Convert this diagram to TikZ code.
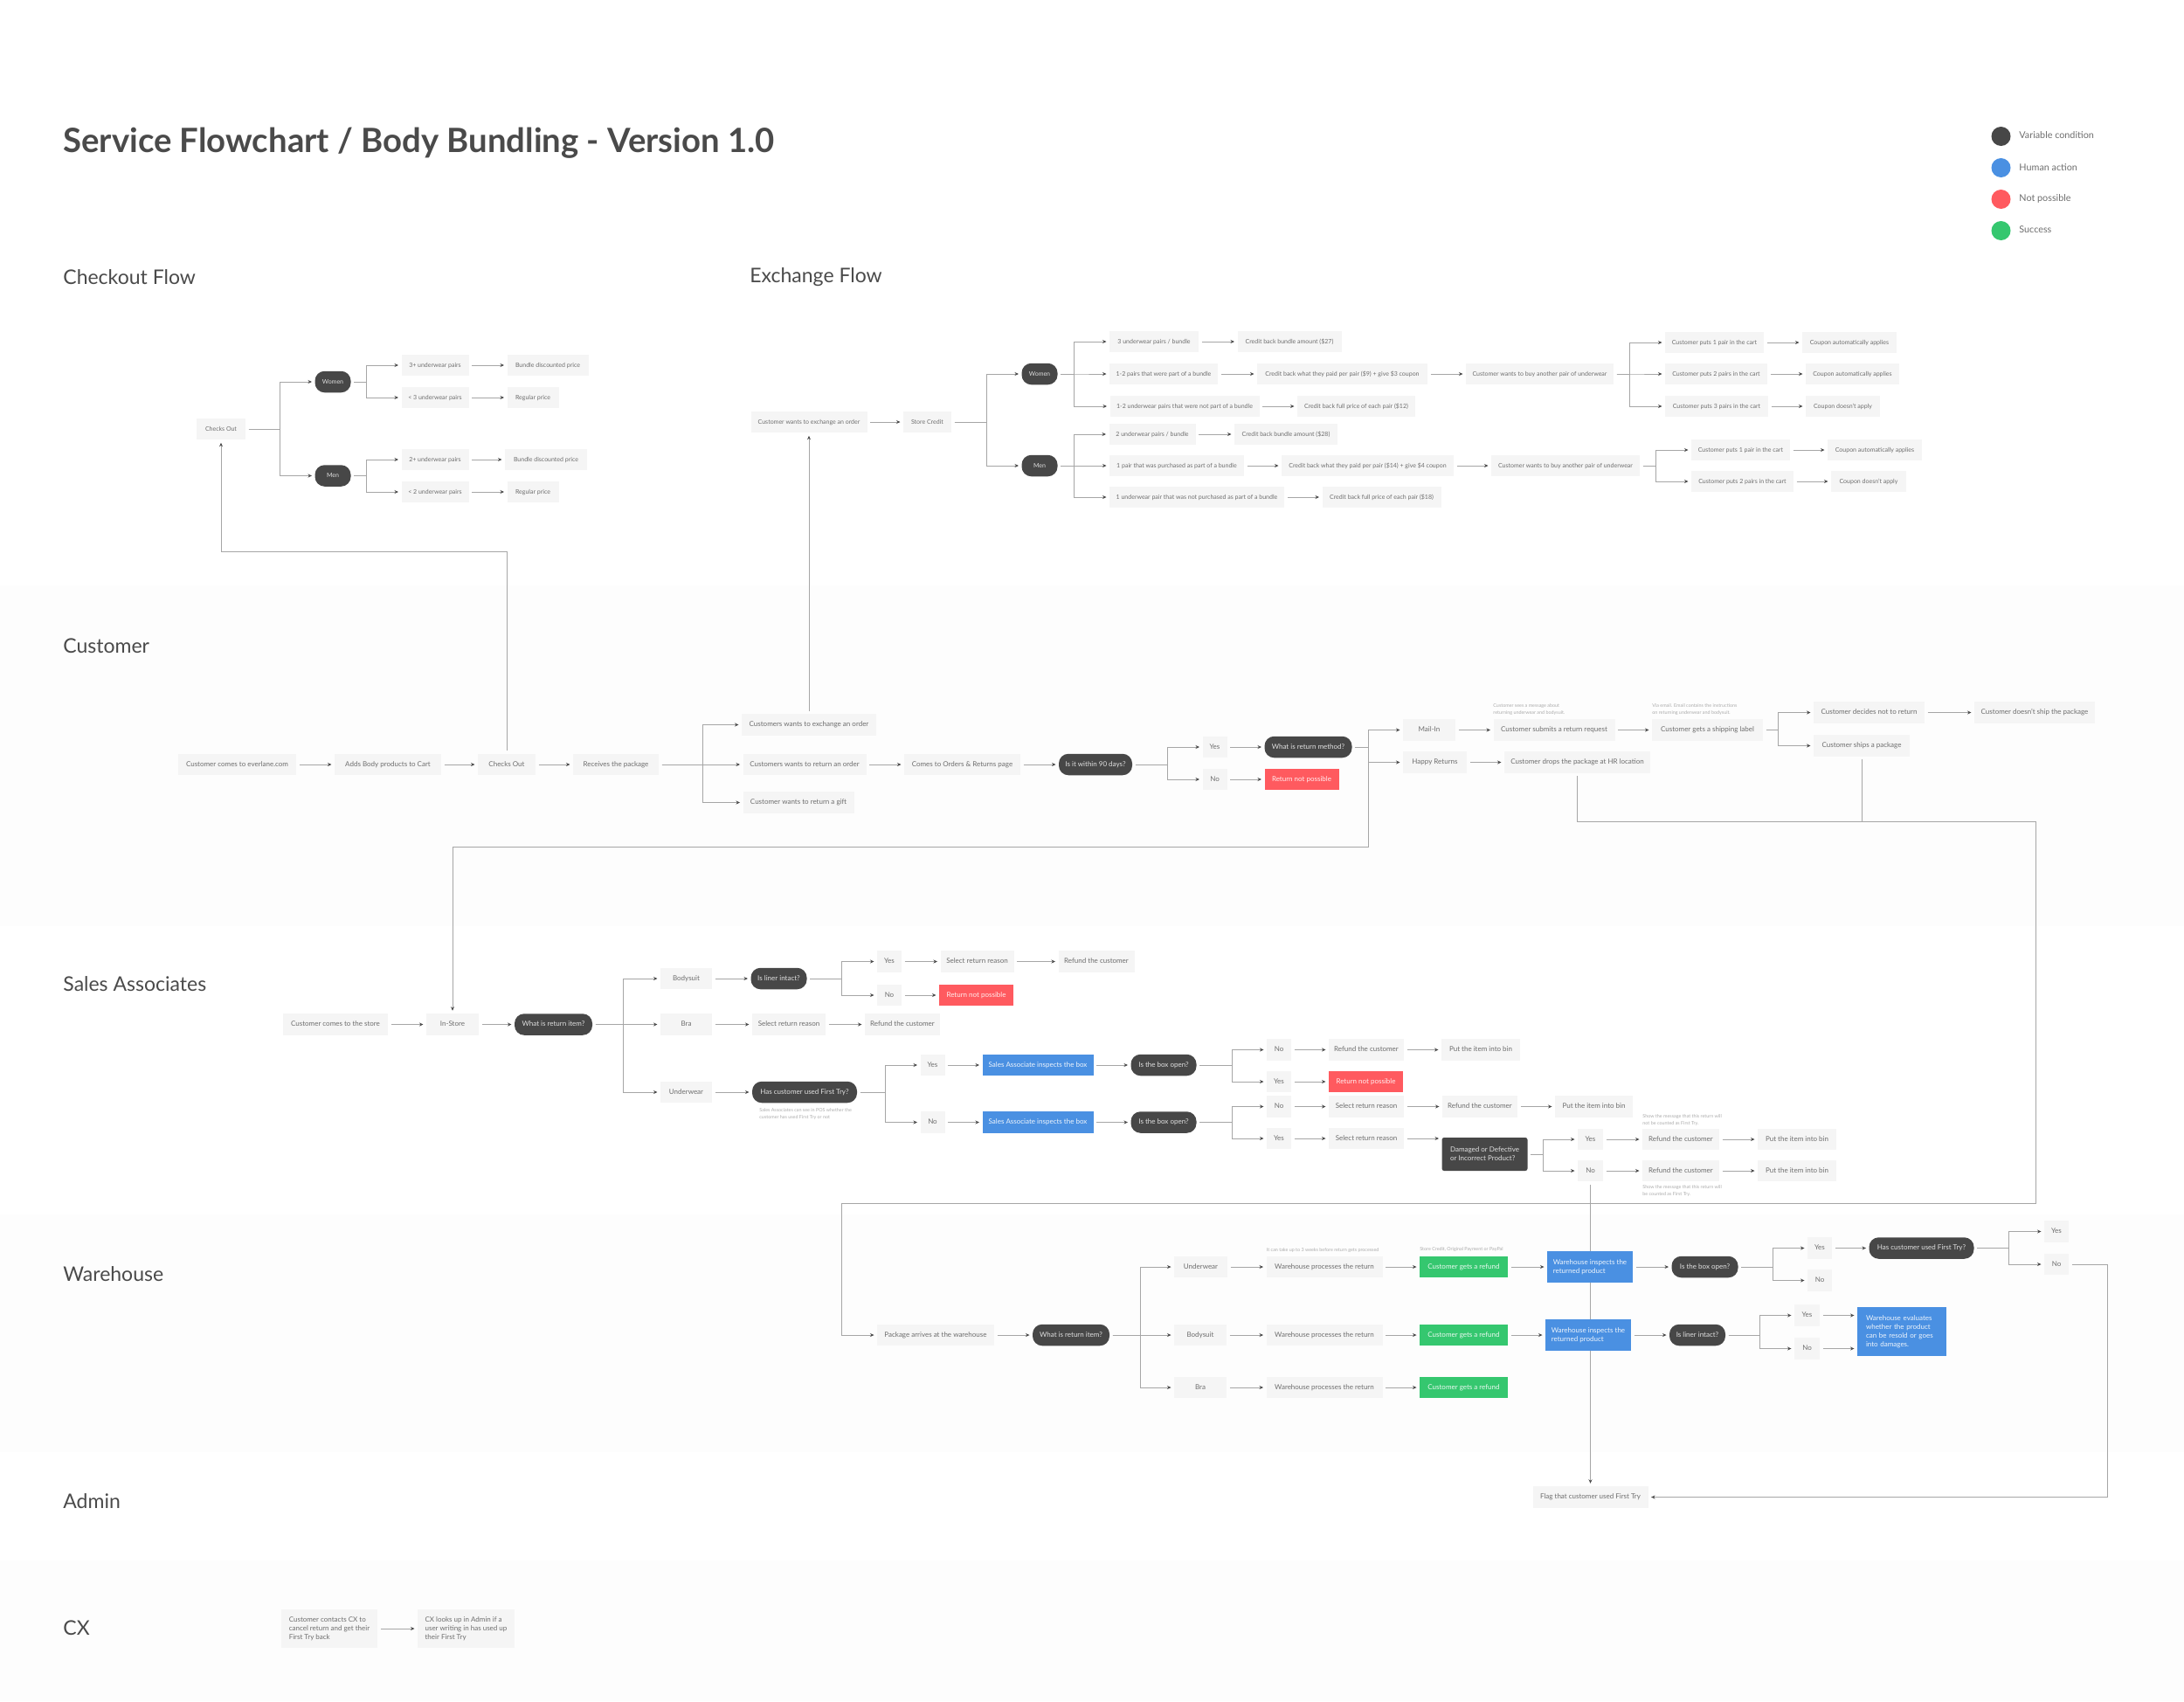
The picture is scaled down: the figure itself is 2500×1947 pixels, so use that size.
\documentclass[tikz,border=0pt]{standalone}
\usepackage{fontspec}
\setmainfont{Lato}
\usetikzlibrary{arrows.meta,backgrounds}
\definecolor{linegray}{HTML}{A6A6A6}
\definecolor{tipgray}{HTML}{4A4A4A}
\definecolor{boxgray}{HTML}{F5F5F5}
\definecolor{lanegray}{HTML}{FDFDFD}
\definecolor{txtgray}{HTML}{6E6E6E}
\definecolor{headgray}{HTML}{4A4A4A}
\definecolor{notegray}{HTML}{ABABAB}
\definecolor{conddark}{HTML}{474747}
\definecolor{humanblue}{HTML}{4A90E2}
\definecolor{nopered}{HTML}{FF5A5F}
\definecolor{okgreen}{HTML}{35C76F}
\tikzset{
  >={Stealth[length=4.5pt,width=4pt,color=tipgray]},
  w/.style={minimum width=#1},
  base/.style={rectangle, inner sep=0pt, outer sep=3.5pt, minimum height=24.5, font=\fontsize{8}{10}\selectfont},
  txt/.style={base, text height=6pt, text depth=1.8pt},
  small/.style={font=\fontsize{7}{9}\selectfont},
  box/.style={txt, fill=boxgray, text=txtgray},
  cond/.style={txt, fill=conddark, text=white!88!black, rounded corners=11},
  human/.style={txt, fill=humanblue, text=white!90!humanblue},
  nope/.style={txt, fill=nopered, text=white!90!nopered},
  okay/.style={txt, fill=okgreen, text=white!90!okgreen},
  note/.style={anchor=west, align=left, inner sep=0pt, text=notegray, font=\fontsize{5.4}{8}\selectfont},
  lane/.style={anchor=west, inner sep=0pt, text=headgray, font=\fontsize{23}{26}\selectfont},
  dot/.style={circle, inner sep=0pt, minimum size=22},
  key/.style={anchor=west, inner sep=0pt, text=txtgray, font=\fontsize{10.8}{13}\selectfont},
  brn/.style={to path={-- ++(#1,0) |- (\tikztotarget)}}
}
\begin{document}
\begin{tikzpicture}[->, x=1pt, y=-1pt, line width=.8pt, color=linegray]
\useasboundingbox (0,0) rectangle (2500,1947);
\node (title)[anchor=west, inner sep=0pt, text=headgray, font=\fontsize{38.3}{42}\selectfont\bfseries] at (72,164) {Service Flowchart / Body Bundling - Version 1.0};
\node (lane1)[lane] at (72,317) {Checkout Flow};
\node (lane2)[lane] at (858,317.5) {Exchange Flow};
\node (lane3)[lane] at (72,739) {Customer};
\node (lane4)[lane] at (72,1126) {Sales Associates};
\node (lane5)[lane] at (72,1458) {Warehouse};
\node (lane6)[lane] at (72,1718) {Admin};
\node (lane7)[lane] at (72,1863) {CX};

\node (dot1)[dot, fill=conddark] at (2290.5,156) {};
\node (dot2)[dot, fill=humanblue] at (2290.5,192) {};
\node (dot3)[dot, fill=nopered] at (2290.5,228) {};
\node (dot4)[dot, fill=okgreen] at (2290.5,264) {};
\node (key1)[key] at (2311,155) {Variable condition};
\node (key2)[key] at (2311,192) {Human action};
\node (key3)[key] at (2311,227) {Not possible};
\node (key4)[key] at (2311,263) {Success};

\node (ck1)[box, small, w=56] at (253,491) {Checks Out};
\node (ck2)[cond, small, w=41] at (381,437) {Women};
\node (ck3)[cond, small, w=41] at (381,544.5) {Men};
\node (ck4)[box, small, w=77] at (498,418) {3+ underwear pairs};
\node (ck5)[box, small, w=93] at (627,418) {Bundle discounted price};
\node (ck6)[box, small, w=77] at (498,455) {< 3 underwear pairs};
\node (ck7)[box, small, w=59] at (610,455) {Regular price};
\node (ck8)[box, small, w=77] at (498,526) {2+ underwear pairs};
\node (ck9)[box, small, w=94] at (625,526) {Bundle discounted price};
\node (ck10)[box, small, w=77] at (498,563) {< 2 underwear pairs};
\node (ck11)[box, small, w=59] at (610,563) {Regular price};

\node (ex1)[box, small, w=133] at (926,483) {Customer wants to exchange an order};
\node (ex2)[box, small, w=55] at (1061.5,483) {Store Credit};
\node (ex3)[cond, small, w=41] at (1190,428) {Women};
\node (ex4)[cond, small, w=41] at (1190,533) {Men};
\node (ew1)[box, small, w=102] at (1321,391) {3 underwear pairs / bundle};
\node (ew2)[box, small, w=119] at (1476,391) {Credit back bundle amount (\$27)};
\node (ew3)[box, small, w=124] at (1332,428) {1-2 pairs that were part of a bundle};
\node (ew4)[box, small, w=195] at (1536.5,428) {Credit back what they paid per pair (\$9) + give \$3 coupon};
\node (ew5)[box, small, w=171] at (1356,465) {1-2 underwear pairs that were not part of a bundle};
\node (ew6)[box, small, w=135] at (1552.5,465) {Credit back full price of each pair (\$12)};
\node (ew7)[box, small, w=169] at (1762.5,428) {Customer wants to buy another pair of underwear};
\node (ew8)[box, small, w=113] at (1962.5,392) {Customer puts 1 pair in the cart};
\node (ew9)[box, small, w=108] at (2117,392) {Coupon automatically applies};
\node (ew10)[box, small, w=117] at (1964.5,428) {Customer puts 2 pairs in the cart};
\node (ew11)[box, small, w=107] at (2120.5,428) {Coupon automatically applies};
\node (ew12)[box, small, w=118] at (1965,465) {Customer puts 3 pairs in the cart};
\node (ew13)[box, small, w=85] at (2109.5,465) {Coupon doesn't apply};
\node (em1)[box, small, w=99] at (1319,497) {2 underwear pairs / bundle};
\node (em2)[box, small, w=118] at (1472,497) {Credit back bundle amount (\$28)};
\node (em3)[box, small, w=154] at (1347,533) {1 pair that was purchased as part of a bundle};
\node (em4)[box, small, w=197] at (1565.5,533) {Credit back what they paid per pair (\$14) + give \$4 coupon};
\node (em5)[box, small, w=200] at (1370,569) {1 underwear pair that was not purchased as part of a bundle};
\node (em6)[box, small, w=136] at (1581.5,569) {Credit back full price of each pair (\$18)};
\node (em7)[box, small, w=170] at (1792,533) {Customer wants to buy another pair of underwear};
\node (em8)[box, small, w=113] at (1992.5,515) {Customer puts 1 pair in the cart};
\node (em9)[box, small, w=108] at (2146,515) {Coupon automatically applies};
\node (em10)[box, small, w=117] at (1994.5,551) {Customer puts 2 pairs in the cart};
\node (em11)[box, small, w=86] at (2139,551) {Coupon doesn't apply};

\node (cu1)[box, w=135] at (271.5,875) {Customer comes to everlane.com};
\node (cu2)[box, w=122] at (444,875) {Adds Body products to Cart};
\node (cu3)[box, w=66] at (580,875) {Checks Out};
\node (cu4)[box, w=98] at (705,875) {Receives the package};
\node (cu5)[box, w=154] at (926,829.5) {Customers wants to exchange an order};
\node (cu6)[box, w=141] at (921,875) {Customers wants to return an order};
\node (cu7)[box, w=127] at (914,918.5) {Customer wants to return a gift};
\node (cu8)[box, w=133] at (1101.5,875) {Comes to Orders \& Returns page};
\node (cu9)[cond, w=84] at (1254,875) {Is it within 90 days?};
\node (cu10)[box, w=28] at (1390.5,855) {Yes};
\node (cu11)[box, w=28] at (1390.5,892) {No};
\node (cu12)[cond, w=100] at (1497.5,855) {What is return method?};
\node (cu13)[nope, w=85] at (1490,892) {Return not possible};
\node (cu14)[box, w=60] at (1636,835.5) {Mail-In};
\node (cu15)[box, w=73] at (1642.5,872.5) {Happy Returns};
\node (cu16)[box, w=139] at (1779,835.5) {Customer submits a return request};
\node (cu17)[box, w=127] at (1954.5,835.5) {Customer gets a shipping label};
\node (cu18)[box, w=127] at (2139.5,815.5) {Customer decides not to return};
\node (cu19)[box, w=110] at (2131,853.5) {Customer ships a package};
\node (cu20)[box, w=138] at (2329,815.5) {Customer doesn't ship the package};
\node (cu21)[box, w=167] at (1805.5,872.5) {Customer drops the package at HR location};
\node (nt1)[note] at (1709,812) {Customer sees a message about\\returning underwear and bodysuit.};
\node (nt2)[note] at (1891,812) {Via email. Email contains the instructions\\on returning underwear and bodysuit.};

\node (sa1)[box, w=120] at (384,1172.5) {Customer comes to the store};
\node (sa2)[box, w=60] at (518,1172.5) {In-Store};
\node (sa3)[cond, w=89] at (633.5,1172.5) {What is return item?};
\node (sa4)[box, w=59] at (785.5,1120) {Bodysuit};
\node (sa5)[box, w=59] at (785.5,1172.5) {Bra};
\node (sa6)[box, w=59] at (785.5,1250) {Underwear};
\node (sa7)[cond, w=64] at (891.5,1120) {Is liner intact?};
\node (sa8)[box, w=84] at (903,1172.5) {Select return reason};
\node (sa9)[box, w=86] at (1033,1172.5) {Refund the customer};
\node (sa10)[cond, w=120] at (921,1250) {Has customer used First Try?};
\node (sa11)[box, w=28] at (1018,1100.5) {Yes};
\node (sa12)[box, w=28] at (1018,1139) {No};
\node (sa13)[box, w=84] at (1118.5,1100.5) {Select return reason};
\node (sa14)[box, w=87] at (1255,1100.5) {Refund the customer};
\node (sa15)[nope, w=85] at (1117.5,1139) {Return not possible};
\node (sa16)[box, w=28] at (1067.5,1219) {Yes};
\node (sa17)[box, w=28] at (1067.5,1284.5) {No};
\node (sa18)[human, w=127] at (1188,1219) {Sales Associate inspects the box};
\node (sa19)[human, w=127] at (1188,1284.5) {Sales Associate inspects the box};
\node (sa20)[cond, w=75] at (1332,1219) {Is the box open?};
\node (sa21)[cond, w=75] at (1332,1284.5) {Is the box open?};
\node (sa22)[box, w=28] at (1464,1201.5) {No};
\node (sa23)[box, w=28] at (1464,1238) {Yes};
\node (sa24)[box, w=28] at (1464,1266.5) {No};
\node (sa25)[box, w=28] at (1464,1303) {Yes};
\node (sa26)[box, w=86] at (1564,1201.5) {Refund the customer};
\node (sa27)[box, w=90] at (1695,1201.5) {Put the item into bin};
\node (sa28)[nope, w=85] at (1563.5,1238) {Return not possible};
\node (sa29)[box, w=86] at (1564,1266.5) {Select return reason};
\node (sa30)[box, w=86] at (1694,1266.5) {Refund the customer};
\node (sa31)[box, w=89] at (1824.5,1266.5) {Put the item into bin};
\node (sa32)[box, w=86] at (1564,1303) {Select return reason};
\node (sa33)[base, fill=conddark, text=white!88!black, rounded corners=2.5, align=left, w=98, minimum height=38] at (1699.5,1321) {Damaged or Defective\\or Incorrect Product?};
\node (sa34)[box, w=29] at (1820.5,1304) {Yes};
\node (sa35)[box, w=29] at (1820.5,1340) {No};
\node (sa36)[box, w=88] at (1924,1304) {Refund the customer};
\node (sa37)[box, w=88] at (1924,1340) {Refund the customer};
\node (sa38)[box, w=90] at (2057,1304) {Put the item into bin};
\node (sa39)[box, w=90] at (2057,1340) {Put the item into bin};
\node (nt3)[note] at (869,1274.5) {Sales Associates can see in POS whether the\\customer has used First Try or not};
\node (nt4)[note] at (1880,1281.5) {Show the message that this return will\\not be counted as First Try.};
\node (nt5)[note] at (1880,1363) {Show the message that this return will\\be counted as First Try.};

\node (wh1)[box, w=134] at (1071,1528) {Package arrives at the warehouse};
\node (wh2)[cond, w=88] at (1226,1528) {What is return item?};
\node (wh3)[box, w=61] at (1374.5,1450) {Underwear};
\node (wh4)[box, w=60] at (1374,1528) {Bodysuit};
\node (wh5)[box, w=60] at (1374,1588) {Bra};
\node (wh6)[box, w=133] at (1516,1450) {Warehouse processes the return};
\node (wh7)[box, w=133] at (1516,1528) {Warehouse processes the return};
\node (wh8)[box, w=133] at (1516,1588) {Warehouse processes the return};
\node (wh9)[okay, w=101] at (1675.5,1450) {Customer gets a refund};
\node (wh10)[okay, w=101] at (1675.5,1528) {Customer gets a refund};
\node (wh11)[okay, w=101] at (1675.5,1588) {Customer gets a refund};
\node (wh12)[base, fill=humanblue, text=white!90!humanblue, align=left, w=98, minimum height=36.5] at (1820,1450) {Warehouse inspects the\\returned product};
\node (wh13)[base, fill=humanblue, text=white!90!humanblue, align=left, w=98, minimum height=36.5] at (1818,1528) {Warehouse inspects the\\returned product};
\node (wh14)[cond, w=76] at (1951.5,1450) {Is the box open?};
\node (wh15)[cond, w=64] at (1943,1528) {Is liner intact?};
\node (wh16)[box, w=28] at (2083,1428.5) {Yes};
\node (wh17)[box, w=28] at (2083,1465.5) {No};
\node (wh18)[cond, w=120] at (2199.5,1428.5) {Has customer used First Try?};
\node (wh19)[box, w=28] at (2354,1409.5) {Yes};
\node (wh20)[box, w=28] at (2354,1447) {No};
\node (wh21)[box, w=29] at (2068.5,1505.5) {Yes};
\node (wh22)[box, w=29] at (2068.5,1543.5) {No};
\node (wh23)[base, fill=humanblue, text=white!90!humanblue, align=left, text width=82pt, w=102, minimum height=56.5] at (2177,1524) {Warehouse evaluates\\whether the product\\can be resold or goes\\into damages.};
\node (nt6)[note] at (1449.5,1431) {It can take up to 3 weeks before return gets processed};
\node (nt7)[note] at (1625,1430) {Store Credit, Original Payment or PayPal};

\node (ad1)[box, w=132] at (1820.5,1713.5) {Flag that customer used First Try};
\node (cx1)[base, fill=boxgray, text=txtgray, align=left, w=110, minimum height=44] at (377,1864) {Customer contacts CX to\\cancel return and get their\\First Try back};
\node (cx2)[base, fill=boxgray, text=txtgray, align=left, w=111, minimum height=44] at (533.5,1864) {CX looks up in Admin if a\\user writing in has used up\\their First Try};

\coordinate (t0) at (580,631.5);
\coordinate (t1) at (1566,969.5);
\coordinate (t2) at (2330.5,940.5);
\coordinate (t3) at (963,1377);
\coordinate (t4) at (2412,1713.5);

\begin{scope}[on background layer]
\fill[lanegray] (0,670) rectangle (2500,1060);
\fill[lanegray] (0,1390) rectangle (2500,1662);
\fill[lanegray] (0,1786) rectangle (2500,1947);
\draw[->, draw=linegray, line width=.8pt] (sa35) -- (ad1);
\end{scope}

\path (ck1.east) edge[brn=35.5] (ck2.west) edge[brn=35.5] (ck3.west)
      (ck2.east) edge[brn=14.5] (ck4.west) edge[brn=14.5] (ck6.west)
      (ck3.east) edge[brn=14.5] (ck8.west) edge[brn=14.5] (ck10.west)
      (ck4)edge(ck5)
      (ck6)edge(ck7)
      (ck8)edge(ck9)
      (ck10)edge(ck11);
\path (ex1)edge(ex2)
      (ex2.east) edge[brn=36.5] (ex3.west) edge[brn=36.5] (ex4.west)
      (ex3.east) edge[brn=15.5] (ew1.west) edge[brn=15.5] (ew3.west) edge[brn=15.5] (ew5.west)
      (ex4.east) edge[brn=15.5] (em1.west) edge[brn=15.5] (em3.west) edge[brn=15.5] (em5.west)
      (ew1)edge(ew2)
      (ew3)edge(ew4)
      (ew4)edge(ew7)
      (ew5)edge(ew6)
      (ew7.east) edge[brn=14.5] (ew8.west) edge[brn=14.5] (ew10.west) edge[brn=14.5] (ew12.west)
      (ew8)edge(ew9)
      (ew10)edge(ew11)
      (ew12)edge(ew13)
      (em1)edge(em2)
      (em3)edge(em4)
      (em4)edge(em7)
      (em5)edge(em6)
      (em7.east) edge[brn=15] (em8.west) edge[brn=15] (em10.west)
      (em8)edge(em9)
      (em10)edge(em11);
\path (cu1)edge(cu2)
      (cu2)edge(cu3)
      (cu3)edge(cu4)
      (cu4.east) edge[brn=46.5] (cu5.west) edge[brn=46.5] (cu6.west) edge[brn=46.5] (cu7.west)
      (cu5)edge(ex1)
      (cu6)edge(cu8)
      (cu8)edge(cu9)
      (cu9.east) edge[brn=36.5] (cu10.west) edge[brn=36.5] (cu11.west)
      (cu10)edge(cu12)
      (cu11)edge(cu13)
      (cu12.east) edge[brn=15] (cu14.west) edge[brn=15] (cu15.west)
      (cu14)edge(cu16)
      (cu15)edge(cu21)
      (cu16)edge(cu17)
      (cu17.east) edge[brn=13.5] (cu18.west) edge[brn=13.5] (cu19.west)
      (cu18)edge(cu20);
\draw (cu3.north) -- (t0) -| (ck1.south);
\draw (cu12.east) -| (t1) -| (sa2.north);
\draw (cu21.south) |- (t2) |- (t3) |- (wh1.west);
\draw[-] (cu19.south) -- (cu19.south |- t2);
\path (sa1)edge(sa2)
      (sa2)edge(sa3)
      (sa3.east) edge[brn=31.5] (sa4.west) edge[brn=31.5] (sa5.west) edge[brn=31.5] (sa6.west)
      (sa4)edge(sa7)
      (sa5)edge(sa8)
      (sa6)edge(sa10)
      (sa8)edge(sa9)
      (sa7.east) edge[brn=36] (sa11.west) edge[brn=36] (sa12.west)
      (sa11)edge(sa13)
      (sa12)edge(sa15)
      (sa13)edge(sa14)
      (sa10.east) edge[brn=28.5] (sa16.west) edge[brn=28.5] (sa17.west)
      (sa16)edge(sa18)
      (sa17)edge(sa19)
      (sa18)edge(sa20)
      (sa19)edge(sa21)
      (sa20.east) edge[brn=37] (sa22.west) edge[brn=37] (sa23.west)
      (sa21.east) edge[brn=37] (sa24.west) edge[brn=37] (sa25.west)
      (sa22)edge(sa26)
      (sa26)edge(sa27)
      (sa23)edge(sa28)
      (sa24)edge(sa29)
      (sa29)edge(sa30)
      (sa30)edge(sa31)
      (sa25)edge(sa32)
      (sa33.east) edge[brn=14.5] (sa34.west) edge[brn=14.5] (sa35.west)
      (sa34)edge(sa36)
      (sa36)edge(sa38)
      (sa35)edge(sa37)
      (sa37)edge(sa39);
\draw (sa32.east) -- (sa32.east -| sa33.west);
\path (wh1)edge(wh2)
      (wh2.east) edge[brn=31.5] (wh3.west) edge[brn=31.5] (wh4.west) edge[brn=31.5] (wh5.west)
      (wh3)edge(wh6)
      (wh4)edge(wh7)
      (wh5)edge(wh8)
      (wh6)edge(wh9)
      (wh7)edge(wh10)
      (wh8)edge(wh11)
      (wh9)edge(wh12)
      (wh10)edge(wh13)
      (wh12)edge(wh14)
      (wh13)edge(wh15)
      (wh14.east) edge[brn=36] (wh16.west) edge[brn=36] (wh17.west)
      (wh16)edge(wh18)
      (wh18.east) edge[brn=36.4] (wh19.west) edge[brn=36.4] (wh20.west)
      (wh15.east) edge[brn=36] (wh21.west) edge[brn=36] (wh22.west);
\draw (wh21.east) -- (wh21.east -| wh23.west);
\draw (wh22.east) -- (wh22.east -| wh23.west);
\draw (wh20.east) -| (t4) -- (ad1.east);
\path (cx1)edge(cx2);
\end{tikzpicture}
\end{document}
